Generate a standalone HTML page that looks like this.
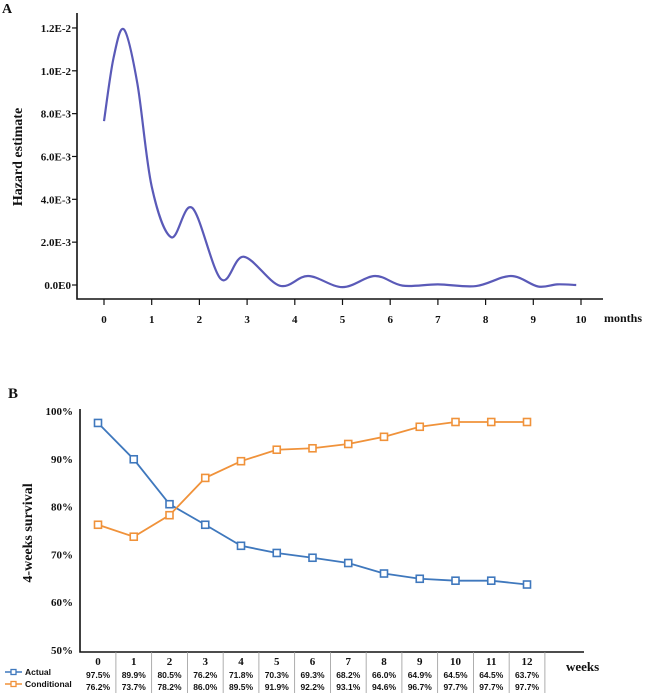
<!DOCTYPE html>
<html><head><meta charset="utf-8"><style>
body{margin:0;background:#fff;width:650px;height:699px;overflow:hidden}
svg{display:block}
.t{font-family:"Liberation Serif",serif;font-weight:bold;fill:#111}
.m{font-family:"Liberation Sans","WenQuanYi Zen Hei",sans-serif;font-weight:bold;fill:#111;font-size:8.5px}
</style></head><body>
<svg id="s" width="650" height="699">
<g id="ga"></g>
<g id="gb"></g>
</svg>
<script>
const hazMonths=[0,0.2,0.42,0.7,1.0,1.41,1.85,2.45,2.93,3.68,4.28,5.0,5.68,6.26,7.0,7.8,8.53,9.1,9.5,9.9];
const hazVals=[7.65,10.6,11.93,9.4,4.6,2.23,3.6,0.28,1.32,-0.03,0.42,-0.1,0.42,-0.03,0.03,-0.05,0.42,-0.07,0.03,0];
const hazYTicks=["0.0E0","2.0E-3","4.0E-3","6.0E-3","8.0E-3","1.0E-2","1.2E-2"];
const weeks=[0,1,2,3,4,5,6,7,8,9,10,11,12];
const actual=[97.5,89.9,80.5,76.2,71.8,70.3,69.3,68.2,66.0,64.9,64.5,64.5,63.7];
const conditional=[76.2,73.7,78.2,86.0,89.5,91.9,92.2,93.1,94.6,96.7,97.7,97.7,97.7];
const survTicks=[50,60,70,80,90,100];
const NS="http://www.w3.org/2000/svg";
function mk(p,t,a,txt){const e=document.createElementNS(NS,t);for(const k in a)e.setAttribute(k,a[k]);if(txt!==undefined)e.textContent=txt;p.appendChild(e);return e;}
// Chart A
const ga=document.getElementById('ga');
const ax=m=>104+m*47.7, ay=v=>285-v*21.42;
let e=mk(ga,'text',{x:2,y:13,class:'t','font-size':14},'A');

e=mk(ga,'path',{d:'M77 13V299H603',stroke:'#111','stroke-width':1.6,fill:'none'});

hazYTicks.forEach((l,i)=>{const y=ay(i*2);
 e=mk(ga,'line',{x1:72,x2:77,y1:y,y2:y,stroke:'#111','stroke-width':1.2});
 
 e=mk(ga,'text',{x:71,y:y+4,'text-anchor':'end',class:'t','font-size':11},l);
 });
for(let m=0;m<=10;m++){const x=ax(m);
 e=mk(ga,'line',{x1:x,x2:x,y1:299,y2:305,stroke:'#111','stroke-width':1.2});
 
 e=mk(ga,'text',{x:x,y:323,'text-anchor':'middle',class:'t','font-size':11},String(m));
 }
e=mk(ga,'text',{x:604,y:322,class:'t','font-size':12,'font-weight':'normal'},'months');

e=mk(ga,'text',{x:0,y:0,class:'t','font-size':14,'text-anchor':'middle',transform:'translate(22,157) rotate(-90)'},'Hazard estimate');

const pts=hazMonths.map((m,i)=>[ax(m),ay(hazVals[i])]);
let d='M'+pts[0][0]+' '+pts[0][1];
for(let i=0;i<pts.length-1;i++){const p0=pts[Math.max(0,i-1)],p1=pts[i],p2=pts[i+1],p3=pts[Math.min(pts.length-1,i+2)];
 d+=` C${p1[0]+(p2[0]-p0[0])/6} ${p1[1]+(p2[1]-p0[1])/6} ${p2[0]-(p3[0]-p1[0])/6} ${p2[1]-(p3[1]-p1[1])/6} ${p2[0]} ${p2[1]}`;}
e=mk(ga,'path',{d:d,stroke:'#5a5ab8','stroke-width':2.2,fill:'none'});

// Chart B
const gb=document.getElementById('gb');
const bx=w=>98+w*35.75, by=v=>650-(v-50)*4.78;
e=mk(gb,'text',{x:8,y:398,class:'t','font-size':15},'B');

e=mk(gb,'path',{d:'M80 409V652H584',stroke:'#111','stroke-width':1.6,fill:'none'});

survTicks.forEach(v=>{e=mk(gb,'text',{x:73,y:by(v)+4,'text-anchor':'end',class:'t','font-size':11},v+'%');
 });
e=mk(gb,'text',{x:0,y:0,class:'t','font-size':14,'text-anchor':'middle',transform:'translate(32,533) rotate(-90)'},'4-weeks survival');

weeks.forEach((w,i)=>{const x=bx(w);
 e=mk(gb,'line',{x1:x+17.9,x2:x+17.9,y1:652,y2:693,stroke:'#999','stroke-width':0.8});
 
 e=mk(gb,'text',{x:x,y:665,'text-anchor':'middle',class:'t','font-size':11},String(w));
 
 e=mk(gb,'text',{x:x,y:678,'text-anchor':'middle',class:'m'},actual[i].toFixed(1)+'%');
 
 e=mk(gb,'text',{x:x,y:690,'text-anchor':'middle',class:'m'},conditional[i].toFixed(1)+'%');
 });
e=mk(gb,'text',{x:566,y:671,class:'t','font-size':13,'font-weight':'normal'},'weeks');

function series(vals,col,name){
 e=mk(gb,'polyline',{points:vals.map((v,i)=>bx(weeks[i])+','+by(v)).join(' '),stroke:col,'stroke-width':1.8,fill:'none'});
 
 vals.forEach((v,i)=>{e=mk(gb,'rect',{x:bx(weeks[i])-3.5,y:by(v)-3.5,width:7,height:7,fill:'#fff',stroke:col,'stroke-width':1.6});
  });}
series(actual,'#3f78bd','actual');
series(conditional,'#f0923a','conditional');
[['Actual','#3f78bd',675],['Conditional','#f0923a',687]].forEach(r=>{
 e=mk(gb,'line',{x1:5,x2:22,y1:r[2]-3,y2:r[2]-3,stroke:r[1],'stroke-width':1.5});
 
 e=mk(gb,'rect',{x:11,y:r[2]-5.5,width:5,height:5,fill:'#fff',stroke:r[1],'stroke-width':1.3});
 
 e=mk(gb,'text',{x:25,y:r[2],class:'m'},r[0]);
 });
</script>
</body></html>
